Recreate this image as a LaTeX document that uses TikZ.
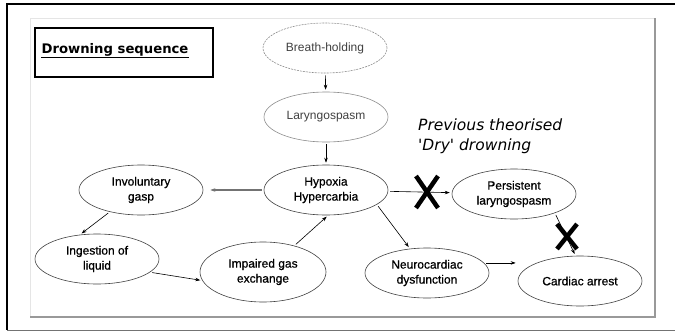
\documentclass[tikz,border=0pt]{standalone}
\usepackage{fontspec}
\setmainfont{Liberation Sans}
\newfontfamily\stagefont[FakeBold=0.7]{Liberation Sans}
\newfontfamily\handfont{DejaVu Sans}
\usetikzlibrary{shapes.geometric,arrows.meta}
\tikzset{
	stage/.style={ellipse,draw=black!75,line width=0.6pt,minimum width=124pt,minimum height=50pt,inner sep=0pt,align=center,font=\stagefont\fontsize{12}{15}\selectfont},
	faint/.style={stage,draw=black!45,text=black!75,font=\fontsize{12}{15}\selectfont},
	link/.style={-{Stealth[length=5pt,width=3.5pt]},line width=0.6pt,shorten >=2pt,shorten <=2pt},
	cross/.style={line width=4.5pt}
}
\begin{document}
\begin{tikzpicture}[x=1pt,y=-1pt]
	\useasboundingbox (0,0) rectangle (675,332);
	\begin{scope}
		\clip (0,0) rectangle (675,332);
		\node[text=red!80!black,font=\fontsize{30}{30}\selectfont\bfseries,inner sep=0pt] (head) at (139,-16) {Pathophysiology};
	\end{scope}
	\draw[line width=2pt] (675,4) -- (7,4) -- (7,330);
	\draw[black!55,line width=1pt] (7,330) -- (675,330);
	\draw[black!10] (30,317) -- (30,18) -- (655,18);
	\draw[black!40,line width=1.2pt] (655,18) -- (655,317) -- (30,317);

	\draw[line width=1.6pt] (35,28) rectangle (213,77);
	\node[font=\handfont\bfseries\fontsize{13.2}{16}\selectfont,inner sep=0pt] (title) at (115,50) {Drowning sequence};
	\draw[line width=1.5pt] ([yshift=-4pt]title.base west) -- ([yshift=-4pt]title.base east);

	\node[faint,dash pattern=on 2pt off 1pt] (brh) at (325,48) {Breath-holding};
	\node[faint] (lar) at (326,117) {Laryngospasm};
	\node[stage] (hyp) at (326,190) {Hypoxia\\Hypercarbia};
	\node[stage] (inv) at (141,190) {Involuntary\\gasp};
	\node[stage] (ing) at (97,259) {Ingestion of\\liquid};
	\node[stage,minimum width=126pt,minimum height=60pt] (imp) at (263,272) {Impaired gas\\exchange};
	\node[stage] (per) at (514,194) {Persistent\\laryngospasm};
	\node[stage] (neu) at (427,273) {Neurocardiac\\dysfunction};
	\node[stage] (car) at (580,281) {Cardiac arrest};

	\node[font=\handfont\itshape\fontsize{15.5}{20}\selectfont,align=left,anchor=north west,inner sep=0pt] (note) at (418,119) {Previous theorised\\'Dry' drowning};

	\draw[link] (brh) -- (lar);
	\draw[link] (lar) -- (hyp);
	\draw[link,draw=black!55,line width=1.3pt,shorten >=7pt] (hyp) -- (inv);
	\draw[link] (inv.-145) -- (ing.125);
	\draw[link] (ing.-14) -- (imp.188);
	\draw[link] (imp.40) -- (hyp.-85);
	\draw[link] (hyp) -- (per);
	\draw[link] (hyp.-16) -- (neu.125);
	\draw[link] (neu.10) -- (neu.10 -| car.west);
	\draw[link] (per.-25) -- (car.100);

	\draw[cross] (416,176) -- (438,208) (438,176) -- (416,208);
	\draw[cross] (557,224) -- (577,249) (577,224) -- (557,249);
\end{tikzpicture}
\end{document}
